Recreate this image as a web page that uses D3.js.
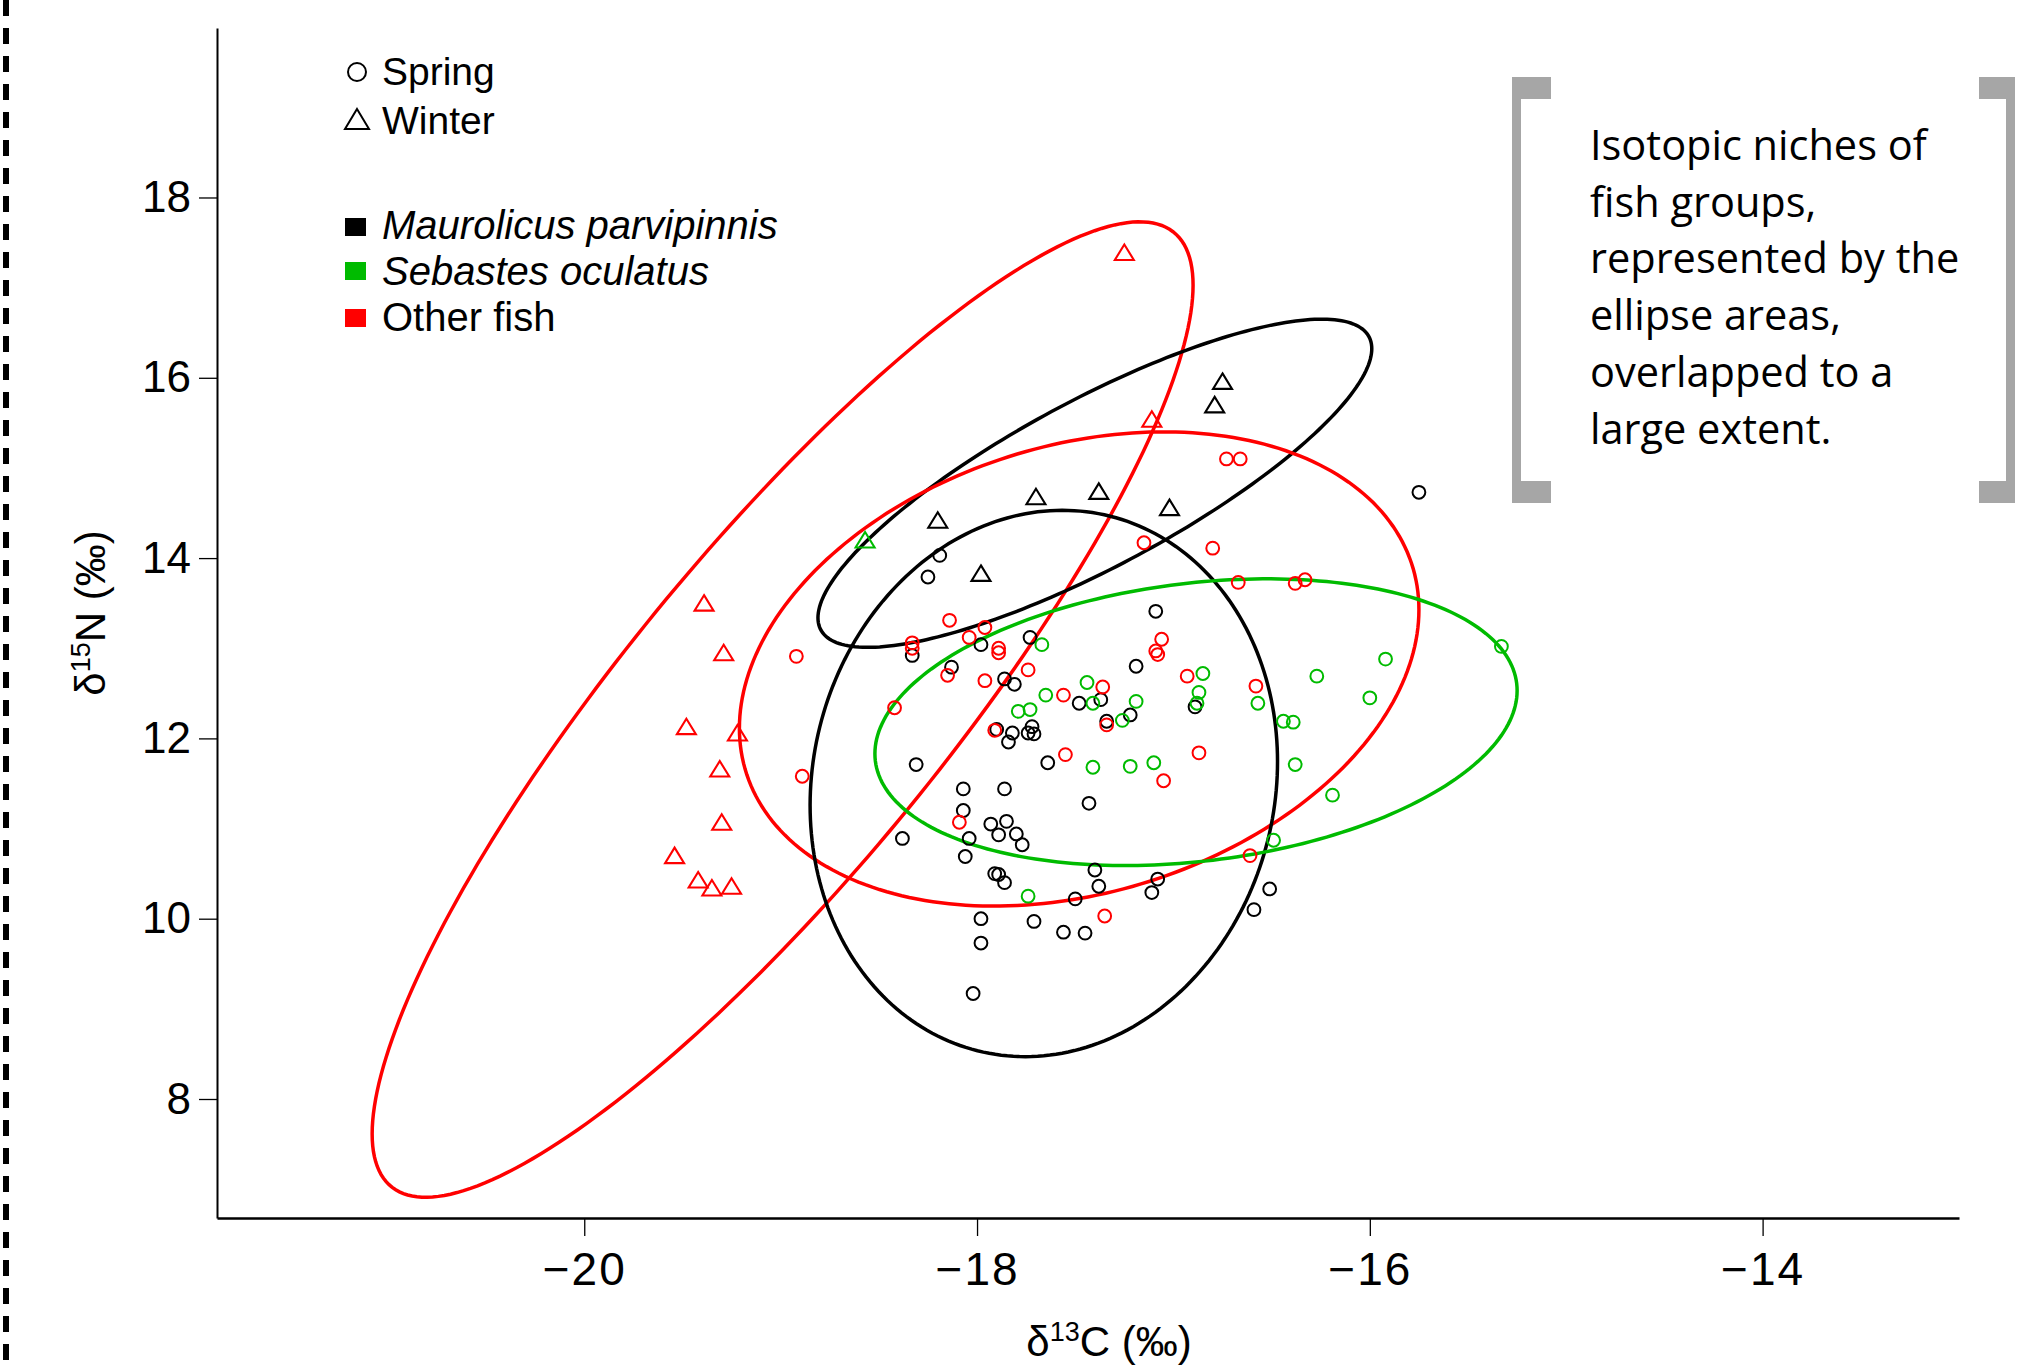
<!DOCTYPE html>
<html>
<head>
<meta charset="utf-8">
<script src="https://cdn.jsdelivr.net/npm/d3@7"></script>
<style>
  body { margin: 0; background: #fff; }
  svg { display: block; font-family: "Liberation Sans", Arial, sans-serif; }
</style>
</head>
<body>
<svg id="chart" width="2023" height="1370"></svg>
<script>
// values, [δ13C, δ15N]
const springMaurolicus = [
  [-15.75, 14.73], [-18.19, 14.03], [-18.25, 13.79], [-18.33, 12.92], [-17.98, 13.04],
  [-17.73, 13.12], [-18.13, 12.79], [-17.86, 12.66], [-17.81, 12.60], [-17.48, 12.39],
  [-17.37, 12.43], [-17.90, 12.10], [-17.82, 12.06], [-17.72, 12.13], [-17.74, 12.06],
  [-17.71, 12.05], [-17.84, 11.96], [-17.34, 12.19], [-18.31, 11.71], [-17.64, 11.73],
  [-18.07, 11.44], [-17.86, 11.44], [-17.43, 11.28], [-18.07, 11.20], [-17.93, 11.05],
  [-17.85, 11.08], [-18.38, 10.89], [-18.04, 10.89], [-17.89, 10.93], [-17.80, 10.94],
  [-17.77, 10.82], [-18.06, 10.69], [-17.91, 10.50], [-17.89, 10.49], [-17.86, 10.40],
  [-17.40, 10.54], [-17.38, 10.36], [-17.50, 10.22], [-17.98, 10.00], [-17.71, 9.97],
  [-17.56, 9.85], [-17.45, 9.84], [-17.98, 9.73], [-18.02, 9.17], [-17.09, 13.41],
  [-17.19, 12.80], [-16.89, 12.35], [-17.22, 12.26], [-17.08, 10.44], [-17.11, 10.29],
  [-16.51, 10.33], [-16.59, 10.10]
];
const springSebastes = [
  [-17.67, 13.04], [-17.65, 12.48], [-17.44, 12.62], [-17.41, 12.39], [-17.79, 12.30],
  [-17.73, 12.32], [-17.26, 12.20], [-17.41, 11.68], [-17.74, 10.25], [-16.85, 12.72],
  [-16.27, 12.69], [-17.19, 12.41], [-16.87, 12.51], [-16.88, 12.39], [-16.57, 12.39],
  [-16.44, 12.19], [-16.39, 12.18], [-16.00, 12.45], [-17.22, 11.69], [-17.10, 11.73],
  [-16.38, 11.71], [-16.19, 11.37], [-16.49, 10.87], [-15.33, 13.02], [-15.92, 12.88]
];
const springOther = [
  [-18.92, 12.91], [-18.89, 11.58], [-18.42, 12.34], [-16.73, 15.10], [-16.66, 15.10],
  [-17.15, 14.17], [-16.80, 14.11], [-18.14, 13.31], [-17.96, 13.23], [-18.04, 13.12],
  [-18.33, 13.06], [-18.33, 13.00], [-17.89, 13.00], [-17.89, 12.95], [-18.15, 12.70],
  [-17.96, 12.64], [-17.74, 12.76], [-17.56, 12.48], [-17.36, 12.57], [-17.91, 12.09],
  [-17.34, 12.15], [-17.55, 11.82], [-18.09, 11.07], [-17.35, 10.03], [-16.67, 13.73],
  [-16.38, 13.72], [-16.33, 13.76], [-17.06, 13.10], [-17.09, 12.97], [-17.08, 12.93],
  [-16.93, 12.69], [-16.58, 12.58], [-16.87, 11.84], [-17.05, 11.53], [-16.61, 10.70]
];
const winterMaurolicus = [
  [-16.75, 15.96], [-16.79, 15.70], [-17.70, 14.68], [-17.38, 14.74], [-17.02, 14.56],
  [-18.20, 14.42], [-17.98, 13.83]
];
const winterSebastes = [[-18.57, 14.20]];
const winterOther = [
  [-17.25, 17.39], [-17.11, 15.54], [-19.39, 13.50], [-19.29, 12.95], [-19.48, 12.13],
  [-19.22, 12.06], [-19.31, 11.66], [-19.30, 11.07], [-19.54, 10.70], [-19.42, 10.43],
  [-19.35, 10.34], [-19.25, 10.36]
];

// niche ellipses: centre, half-widths and correlation
const ellipses = [
  { group: "other", cx: -18.99, cy: 12.32, sx: 2.09, sy: 5.41, r: 0.87 },
  { group: "maurolicus", cx: -17.40, cy: 14.83, sx: 1.41, sy: 1.82, r: 0.82 },
  { group: "other", cx: -17.48, cy: 12.77, sx: 1.73, sy: 2.63, r: 0.25 },
  { group: "maurolicus", cx: -17.66, cy: 11.50, sx: 1.19, sy: 3.03, r: 0.08 },
  { group: "sebastes", cx: -16.885, cy: 12.18, sx: 1.635, sy: 1.59, r: 0.22 }
];

const xTicks = [-20, -18, -16, -14];
const yTicks = [8, 10, 12, 14, 16, 18];
const groupNames = ["Maurolicus parvipinnis", "Sebastes oculatus", "Other fish"];
const seasonNames = ["Spring", "Winter"];
const noteLines = ["Isotopic niches of", "fish groups,", "represented by the",
  "ellipse areas,", "overlapped to a", "large extent."];

const colors = { maurolicus: "#000000", sebastes: "#00bb00", other: "#ff0000" };

const svg = d3.select("#chart");

// page border on the left
svg.append("line")
  .attr("x1", 6).attr("x2", 6).attr("y1", 0).attr("y2", 1370)
  .attr("stroke", "#000").attr("stroke-width", 6)
  .attr("stroke-dasharray", "16 12");

const x = d3.scaleLinear().domain([-21.87, -13.0]).range([217, 1959]);
const y = d3.scaleLinear().domain([6.68, 19.88]).range([1218, 28]);

// axes
const xAxis = svg.append("g")
  .attr("transform", "translate(0,1218)")
  .call(d3.axisBottom(x).tickValues(xTicks).tickSize(18).tickSizeOuter(0).tickPadding(16));
xAxis.select(".domain").attr("stroke-width", 2.5);
xAxis.selectAll(".tick line").attr("stroke-width", 1.3);
xAxis.selectAll(".tick text")
  .attr("font-size", 46)
  .attr("letter-spacing", 2)
  .attr("font-family", "Liberation Sans");

const yAxis = svg.append("g")
  .attr("transform", "translate(217,0)")
  .call(d3.axisLeft(y).tickValues(yTicks).tickSize(18).tickSizeOuter(0).tickPadding(8));
yAxis.select(".domain").attr("stroke-width", 2);
yAxis.selectAll(".tick line").attr("stroke-width", 1.3);
yAxis.selectAll(".tick text").attr("font-size", 44).attr("font-family", "Liberation Sans");

// axis titles
const xTitle = svg.append("text")
  .attr("x", 1109).attr("y", 1356)
  .attr("text-anchor", "middle")
  .attr("font-size", 42);
xTitle.append("tspan").text("δ");
xTitle.append("tspan").attr("font-size", 27).attr("dy", -15).text("13");
xTitle.append("tspan").attr("dy", 15).text("C (‰)");

const yTitle = svg.append("text")
  .attr("transform", "translate(105,613) rotate(-90)")
  .attr("text-anchor", "middle")
  .attr("font-size", 42);
yTitle.append("tspan").text("δ");
yTitle.append("tspan").attr("font-size", 27).attr("dy", -15).text("15");
yTitle.append("tspan").attr("dy", 15).text("N (‰)");

// ellipses
const line = d3.line().x(d => x(d[0])).y(d => y(d[1])).curve(d3.curveLinearClosed);
svg.append("g").selectAll("path")
  .data(ellipses)
  .join("path")
  .attr("d", e => {
    const pts = d3.range(0, 240).map(i => {
      const t = i / 240 * 2 * Math.PI;
      return [e.cx + e.sx * Math.cos(t),
              e.cy + e.sy * (e.r * Math.cos(t) + Math.sqrt(1 - e.r * e.r) * Math.sin(t))];
    });
    return line(pts);
  })
  .attr("fill", "none")
  .attr("stroke", e => colors[e.group])
  .attr("stroke-width", 3.5);

// points
const springSets = [
  { group: "maurolicus", values: springMaurolicus },
  { group: "sebastes", values: springSebastes },
  { group: "other", values: springOther }
];
const winterSets = [
  { group: "maurolicus", values: winterMaurolicus },
  { group: "sebastes", values: winterSebastes },
  { group: "other", values: winterOther }
];

const triPath = "M0,-8L9.5,7.5L-9.5,7.5Z";

springSets.forEach(s => {
  svg.append("g").selectAll("circle")
    .data(s.values)
    .join("circle")
    .attr("cx", d => x(d[0]))
    .attr("cy", d => y(d[1]))
    .attr("r", 6.4)
    .attr("fill", "none")
    .attr("stroke", colors[s.group])
    .attr("stroke-width", 2);
});
winterSets.forEach(s => {
  svg.append("g").selectAll("path")
    .data(s.values)
    .join("path")
    .attr("d", triPath)
    .attr("transform", d => `translate(${x(d[0])},${y(d[1])})`)
    .attr("fill", "none")
    .attr("stroke", colors[s.group])
    .attr("stroke-width", 2.1);
});

// legend
const legend = svg.append("g");
legend.append("circle").attr("cx", 357).attr("cy", 72).attr("r", 9)
  .attr("fill", "none").attr("stroke", "#000").attr("stroke-width", 2);
legend.append("path").attr("d", "M0,-10L12,10L-12,10Z")
  .attr("transform", "translate(357,119)")
  .attr("fill", "none").attr("stroke", "#000").attr("stroke-width", 2);
legend.selectAll(".season")
  .data(seasonNames)
  .join("text")
  .attr("x", 382)
  .attr("y", (d, i) => [85, 134][i])
  .attr("font-size", 39)
  .text(d => d);

const legendKeys = ["maurolicus", "sebastes", "other"];
legend.selectAll("rect")
  .data(legendKeys)
  .join("rect")
  .attr("x", 345)
  .attr("y", (d, i) => [218, 262, 309][i])
  .attr("width", 21).attr("height", 18)
  .attr("fill", d => colors[d]);
legend.selectAll(".grp")
  .data(groupNames)
  .join("text")
  .attr("x", 382)
  .attr("y", (d, i) => [239, 285, 331][i])
  .attr("font-size", 40)
  .attr("font-style", (d, i) => i < 2 ? "italic" : "normal")
  .text(d => d);

// note in brackets
const note = svg.append("g");
const grey = "#a6a6a6";
note.append("path")
  .attr("d", "M1551,77H1512V503H1551V481H1521V99H1551Z")
  .attr("fill", grey);
note.append("path")
  .attr("d", "M1979,77H2015V503H1979V481H2006V99H1979Z")
  .attr("fill", grey);
note.selectAll("text")
  .data(noteLines)
  .join("text")
  .attr("x", 1590)
  .attr("y", (d, i) => 160 + i * 56.7)
  .attr("font-family", "Open Sans")
  .attr("font-size", 41.5)
  .attr("fill", "#000")
  .text(d => d);
</script>
</body>
</html>
